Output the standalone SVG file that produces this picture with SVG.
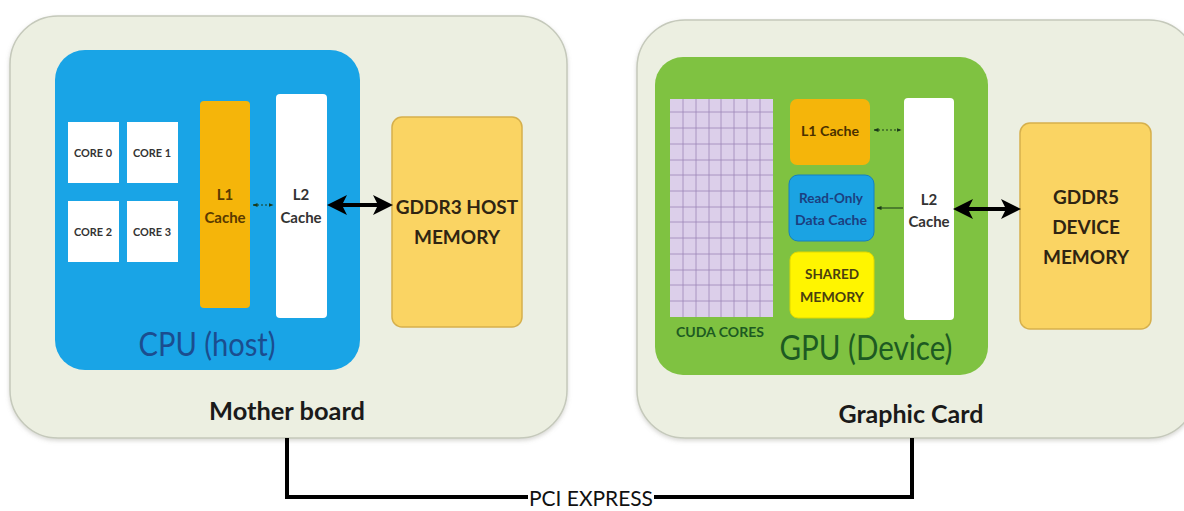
<svg xmlns="http://www.w3.org/2000/svg" width="1184" height="511" viewBox="0 0 1184 511">
<defs>
<style>
text{font-family:Lato,"Open Sans","Liberation Sans",sans-serif;text-anchor:middle;}
.board{fill:#ECEFE1;stroke:#C5C9BB;stroke-width:1.5;}
.lbl{font-weight:bold;fill:#1a1a1a;}
.core{fill:#FFFFFF;}
.corel{font-size:10.5px;font-weight:bold;fill:#333;}
.cache{font-size:15px;font-weight:bold;}
.mem{fill:#FAD463;stroke:#D6B04C;stroke-width:1.5;}
.memt{font-size:19px;font-weight:bold;fill:#2f2412;}
.thick{stroke:#000;stroke-width:4;fill:none;}
.thin{stroke:#1a3a1a;stroke-width:1;fill:none;}
.pci{stroke:#000;stroke-width:4;fill:none;}
.grid{stroke:#9C86B8;stroke-width:0.8;}
</style>
<marker id="bigHead" viewBox="0 0 10 10" refX="8" refY="5" markerWidth="5" markerHeight="5" orient="auto-start-reverse">
<path d="M0,0 L10,5 L0,10 L2.5,5 Z" fill="#000"/>
</marker>
<marker id="smallHead" viewBox="0 0 10 10" refX="9" refY="5" markerWidth="5" markerHeight="5" orient="auto-start-reverse">
<path d="M0,1 L10,5 L0,9 Z" fill="#1a3a1a"/>
</marker>
<filter id="sh" x="-5%" y="-5%" width="110%" height="112%">
<feDropShadow dx="0" dy="2" stdDeviation="2" flood-color="#8a8a80" flood-opacity="0.35"/>
</filter>
</defs>
<rect width="1184" height="511" fill="#FFFFFF"/>

<g id="motherboard">
<rect class="board" x="10" y="16" width="557" height="422" rx="48" filter="url(#sh)"/>
<text class="lbl" x="287" y="420" font-size="24" textLength="156" lengthAdjust="spacingAndGlyphs">Mother board</text>
</g>

<g id="cpu">
<rect x="55" y="50" width="305" height="320" rx="30" fill="#19A4E6"/>
<text x="207" y="356" font-size="32" fill="#1B4D8F" textLength="137" lengthAdjust="spacingAndGlyphs">CPU (host)</text>
</g>

<g id="core0"><rect class="core" x="68" y="122" width="51" height="61"/><text class="corel" x="93" y="157" textLength="38" lengthAdjust="spacingAndGlyphs">CORE 0</text></g>
<g id="core1"><rect class="core" x="127" y="122" width="51" height="61"/><text class="corel" x="152" y="157" textLength="38" lengthAdjust="spacingAndGlyphs">CORE 1</text></g>
<g id="core2"><rect class="core" x="68" y="201" width="51" height="61"/><text class="corel" x="93" y="236" textLength="38" lengthAdjust="spacingAndGlyphs">CORE 2</text></g>
<g id="core3"><rect class="core" x="127" y="201" width="51" height="61"/><text class="corel" x="152" y="236" textLength="38" lengthAdjust="spacingAndGlyphs">CORE 3</text></g>

<g id="cpu-l1">
<rect x="200" y="101" width="50" height="207" rx="4" fill="#F5B50A"/>
<text class="cache" x="225" y="200" fill="#5a3a00">L1</text>
<text class="cache" x="225" y="223" fill="#5a3a00">Cache</text>
</g>

<g id="cpu-l2">
<rect x="276" y="94" width="51" height="224" rx="4" fill="#FFFFFF"/>
<text class="cache" x="301" y="200" fill="#333">L2</text>
<text class="cache" x="301" y="223" fill="#333">Cache</text>
</g>

<g id="host-memory">
<rect class="mem" x="392" y="117" width="130" height="210" rx="10"/>
<text class="memt" x="457" y="214">GDDR3 HOST</text>
<text class="memt" x="457" y="244">MEMORY</text>
</g>

<g id="graphiccard">
<rect class="board" x="637" y="20" width="560" height="418" rx="48" filter="url(#sh)"/>
<text class="lbl" x="911" y="423" font-size="24" textLength="145" lengthAdjust="spacingAndGlyphs">Graphic Card</text>
</g>

<g id="gpu">
<rect x="655" y="57" width="333" height="318" rx="28" fill="#7FC241"/>
<text x="866" y="360" font-size="34" fill="#1D5A22" textLength="173" lengthAdjust="spacingAndGlyphs">GPU (Device)</text>
</g>

<g id="cuda-cores">
<rect x="670" y="99" width="103" height="218" fill="#DCCFEA"/>
<g class="grid">
<line x1="683" y1="99" x2="683" y2="317"/><line x1="696" y1="99" x2="696" y2="317"/><line x1="709" y1="99" x2="709" y2="317"/><line x1="721" y1="99" x2="721" y2="317"/><line x1="734" y1="99" x2="734" y2="317"/><line x1="747" y1="99" x2="747" y2="317"/><line x1="760" y1="99" x2="760" y2="317"/>
<line x1="670" y1="112" x2="773" y2="112"/><line x1="670" y1="128" x2="773" y2="128"/><line x1="670" y1="144" x2="773" y2="144"/><line x1="670" y1="160" x2="773" y2="160"/><line x1="670" y1="175" x2="773" y2="175"/><line x1="670" y1="191" x2="773" y2="191"/><line x1="670" y1="207" x2="773" y2="207"/><line x1="670" y1="222" x2="773" y2="222"/><line x1="670" y1="238" x2="773" y2="238"/><line x1="670" y1="254" x2="773" y2="254"/><line x1="670" y1="270" x2="773" y2="270"/><line x1="670" y1="285" x2="773" y2="285"/><line x1="670" y1="301" x2="773" y2="301"/>
</g>
<text x="720" y="337" font-size="13" font-weight="bold" fill="#1D5A22" textLength="88" lengthAdjust="spacingAndGlyphs">CUDA CORES</text>
</g>

<g id="gpu-l1">
<rect x="790" y="99" width="80" height="66" rx="7" fill="#F5B50A"/>
<text x="830" y="136" font-size="14" font-weight="bold" fill="#4a3000" textLength="58" lengthAdjust="spacingAndGlyphs">L1 Cache</text>
</g>

<g id="readonly-cache">
<rect x="789" y="175" width="85" height="66" rx="9" fill="#1BA3E3" stroke="#1680C0" stroke-width="1"/>
<text x="831" y="203" font-size="13" font-weight="bold" fill="#1B3F80" textLength="64" lengthAdjust="spacingAndGlyphs">Read-Only</text>
<text x="831" y="225" font-size="13" font-weight="bold" fill="#1B3F80" textLength="72" lengthAdjust="spacingAndGlyphs">Data Cache</text>
</g>

<g id="shared-memory">
<rect x="790" y="252" width="84" height="66" rx="8" fill="#FFF500" stroke="#E0D800" stroke-width="1"/>
<text x="832" y="279" font-size="13" font-weight="bold" fill="#4a4010" textLength="54" lengthAdjust="spacingAndGlyphs">SHARED</text>
<text x="832" y="302" font-size="13" font-weight="bold" fill="#4a4010" textLength="64" lengthAdjust="spacingAndGlyphs">MEMORY</text>
</g>

<g id="gpu-l2">
<rect x="904" y="98" width="50" height="222" rx="4" fill="#FFFFFF"/>
<text class="cache" x="929" y="205" fill="#333" font-size="14">L2</text>
<text class="cache" x="929" y="227" fill="#333" font-size="14">Cache</text>
</g>

<g id="device-memory">
<rect class="mem" x="1020" y="123" width="131" height="206" rx="10"/>
<text class="memt" x="1086" y="204">GDDR5</text>
<text class="memt" x="1086" y="234">DEVICE</text>
<text class="memt" x="1086" y="264">MEMORY</text>
</g>

<g id="connectors">
<line class="thin" x1="253" y1="205" x2="273" y2="205" stroke-dasharray="2,2" marker-start="url(#smallHead)" marker-end="url(#smallHead)"/>
<line class="thick" x1="331" y1="205" x2="389" y2="205" marker-start="url(#bigHead)" marker-end="url(#bigHead)"/>
<line class="thin" x1="874" y1="130" x2="901" y2="130" stroke-dasharray="2,2" marker-start="url(#smallHead)" marker-end="url(#smallHead)"/>
<line class="thin" x1="903" y1="208" x2="877" y2="208" marker-end="url(#smallHead)"/>
<line class="thick" x1="957" y1="209" x2="1017" y2="209" marker-start="url(#bigHead)" marker-end="url(#bigHead)"/>
<polyline class="pci" points="287,438 287,497 528,497"/>
<polyline class="pci" points="654,497 912,497 912,438"/>
<text x="591" y="506" font-size="22" fill="#111" textLength="124" lengthAdjust="spacingAndGlyphs">PCI EXPRESS</text>
</g>
</svg>
